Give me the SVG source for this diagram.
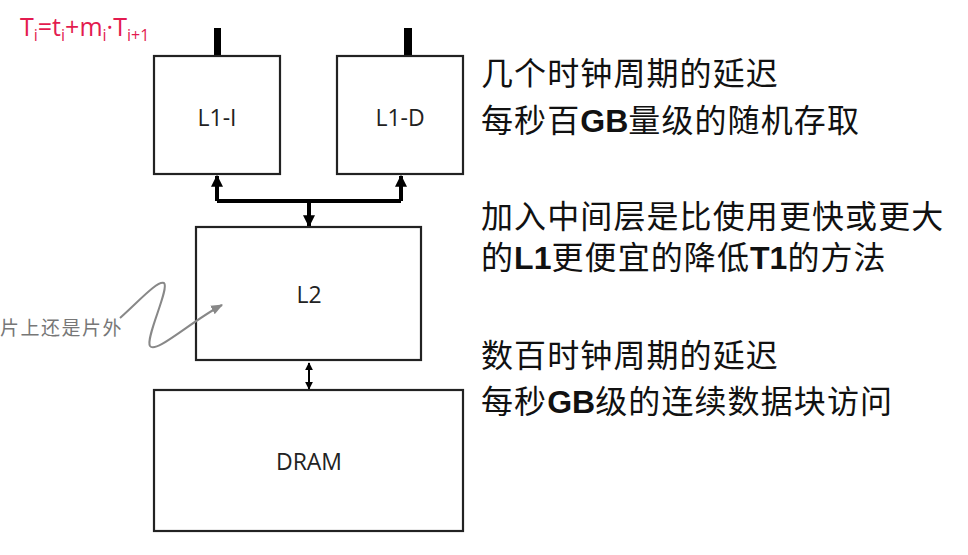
<svg xmlns="http://www.w3.org/2000/svg" width="968" height="555" viewBox="0 0 968 555">
<style>
.box{fill:#fff;stroke:#222;stroke-width:2.2}
.lbl{font-family:"Open Sans","Liberation Sans",sans-serif;font-size:23px;fill:#222;text-anchor:middle}
.cn{font-family:"Noto Sans CJK SC",sans-serif;font-size:32px;fill:#111;letter-spacing:1.1px}
.b{font-family:"Liberation Sans",Arial,sans-serif;font-weight:bold;letter-spacing:0}
.thick{stroke:#000;stroke-width:4;fill:none}
</style>
<defs>
<marker id="ah" viewBox="0 0 10 10" refX="9" refY="5" markerWidth="3" markerHeight="3" orient="auto-start-reverse"><path d="M0 0L10 5L0 10z" fill="#000"/></marker>
<marker id="ah2" viewBox="0 0 10 10" refX="9" refY="5" markerWidth="4" markerHeight="4" orient="auto-start-reverse"><path d="M0 0L10 5L0 10z" fill="#000"/></marker>
<marker id="ag" viewBox="0 0 10 10" refX="9" refY="5" markerWidth="6" markerHeight="6" orient="auto"><path d="M0 1L10 5L0 9z" fill="#888"/></marker>
</defs>
<text x="20" y="36" font-family="'Open Sans','Liberation Sans',sans-serif" font-size="25" fill="#e31b4f">T<tspan font-size="16" dy="5">i</tspan><tspan dy="-5">=t</tspan><tspan font-size="16" dy="5">i</tspan><tspan dy="-5">+m</tspan><tspan font-size="16" dy="5">i</tspan><tspan dy="-5">·T</tspan><tspan font-size="16" dy="5">i+1</tspan></text>
<g id="connectors">
<rect x="214" y="28" width="7" height="28" fill="#000"/>
<rect x="404" y="28" width="8" height="28" fill="#000"/>
<path class="thick" d="M217 201H401"/>
<path class="thick" d="M217 201V176" marker-end="url(#ah)"/>
<path class="thick" d="M401 201V176" marker-end="url(#ah)"/>
<path class="thick" d="M309 201V226" marker-end="url(#ah)"/>
<path d="M309 363V389" stroke="#000" stroke-width="2" fill="none" marker-start="url(#ah2)" marker-end="url(#ah2)"/>
</g>
<g id="L1-I"><rect class="box" x="154" y="56" width="126" height="118"/><text class="lbl" x="217" y="126">L1-I</text></g>
<g id="L1-D"><rect class="box" x="337" y="56" width="126" height="118"/><text class="lbl" x="400" y="126">L1-D</text></g>
<g id="L2"><rect class="box" x="196" y="227" width="225" height="133"/><text class="lbl" x="309" y="303">L2</text></g>
<g id="DRAM"><rect class="box" x="154" y="390" width="309" height="141"/><text class="lbl" x="309" y="470">DRAM</text></g>
<g id="note">
<text x="0" y="335" font-family="'Noto Sans CJK SC',sans-serif" font-size="19" fill="#777" letter-spacing="1.5">片上还是片外</text>
<path d="M120 318C140 300 158 280 164 283C170 288 145 338 150 346C156 354 190 322 222 305" stroke="#888" stroke-width="2" fill="none" marker-end="url(#ag)"/>
</g>
<text class="cn" x="481" y="85">几个时钟周期的延迟</text>
<text class="cn" x="481" y="132">每秒百<tspan class="b">GB</tspan>量级的随机存取</text>
<text class="cn" x="481" y="228">加入中间层是比使用更快或更大</text>
<text class="cn" x="481" y="269">的<tspan class="b">L1</tspan>更便宜的降低<tspan class="b">T1</tspan>的方法</text>
<text class="cn" x="481" y="367">数百时钟周期的延迟</text>
<text class="cn" x="481" y="413">每秒<tspan class="b">GB</tspan>级的连续数据块访问</text>
</svg>
